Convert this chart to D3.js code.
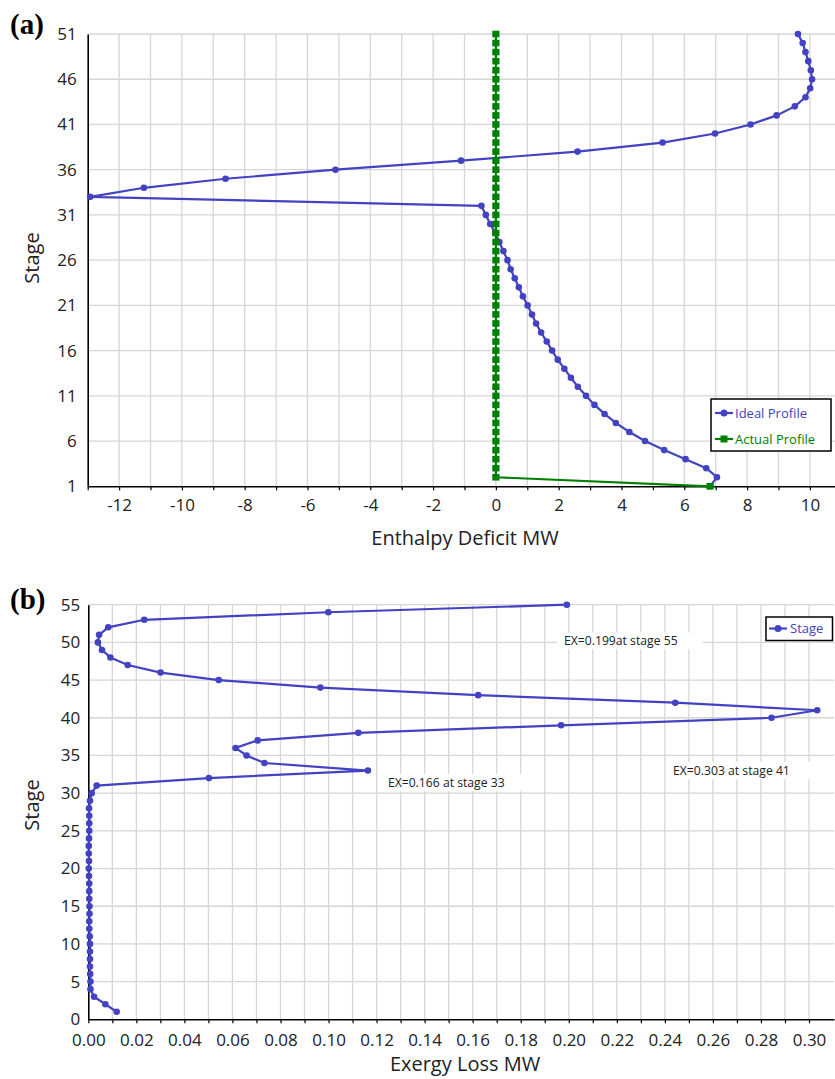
<!DOCTYPE html>
<html><head><meta charset="utf-8">
<script src="https://cdn.jsdelivr.net/npm/d3@7"></script>
<style>
body{margin:0;background:#fff;}
svg{display:block;font-family:"Open Sans","Noto Sans",sans-serif;}
</style></head>
<body><svg id="c" width="835" height="1079"></svg>
<script>
// ---------- data ----------
const stagesA = d3.range(1, 52);
const idealProfile = [6.82, 7.04, 6.70, 6.04, 5.36, 4.75, 4.25, 3.82, 3.46, 3.14,
  2.87, 2.61, 2.39, 2.18, 1.97, 1.79, 1.62, 1.44, 1.28, 1.15,
  1.01, 0.86, 0.73, 0.60, 0.47, 0.37, 0.24, 0.11, -0.02, -0.18,
  -0.32, -0.46, -12.92, -11.21, -8.61, -5.11, -1.11, 2.60, 5.31, 6.98,
  8.11, 8.94, 9.52, 9.86, 10.01, 10.07, 10.03, 9.95, 9.86, 9.77, 9.62];
const actualProfile = [6.82].concat(d3.range(2, 52).map(() => 0));
const xTicksA = d3.range(-13, 11);
const yTicksA = [1, 6, 11, 16, 21, 26, 31, 36, 41, 46, 51];

const stagesB = d3.range(1, 56);
const exergyLoss = [0.0118, 0.0071, 0.0024, 0.0009, 0.0009, 0.0008, 0.0007, 0.0007, 0.0007, 0.0007,
  0.0006, 0.0004, 0.0004, 0.0005, 0.0005, 0.0004, 0.0004, 0.0004, 0.0003, 0.0002,
  0.0003, 0.0002, 0.0002, 0.0003, 0.0004, 0.0004, 0.0004, 0.0003, 0.0007, 0.0014,
  0.0035, 0.0502, 0.1164, 0.0733, 0.0659, 0.0613, 0.0705, 0.1124, 0.1968, 0.2844,
  0.3034, 0.2443, 0.1623, 0.0966, 0.0543, 0.0301, 0.0164, 0.0092, 0.0057, 0.0040,
  0.0045, 0.0083, 0.0233, 0.0999, 0.1992];
const xTicksB = d3.range(0, 31).map(i => i / 100);
const yTicksB = d3.range(0, 56, 5);
const annotationsB = [
  {text: "EX=0.199at stage 55", x: 0.198, stage: 50.2},
  {text: "EX=0.303 at stage 41", x: 0.2434, stage: 33.0},
  {text: "EX=0.166 at stage 33", x: 0.1247, stage: 31.4}
];

// ---------- styles ----------
const BLUE = "#4242C2", GREEN = "#008000", GRID = "#d6d6d6", INK = "#222";
const svg = d3.select("#c");

function panel(cfg) {
  const g = svg.append("g");
  const x = d3.scaleLinear().domain(cfg.xDomain).range([cfg.left, cfg.right]);
  const y = d3.scaleLinear().domain(cfg.yDomain).range([cfg.bottom, cfg.top]);
  // grid
  g.append("g").selectAll("line").data(cfg.xTicks.filter(v => v > cfg.xDomain[0] + 1e-9)).join("line")
    .attr("x1", d => x(d)).attr("x2", d => x(d)).attr("y1", cfg.top).attr("y2", cfg.bottom)
    .attr("stroke", GRID).attr("stroke-width", 1.3);
  g.append("g").selectAll("line").data(cfg.yTicks.filter(v => v > cfg.yDomain[0])).join("line")
    .attr("x1", cfg.left).attr("x2", cfg.right).attr("y1", d => y(d)).attr("y2", d => y(d))
    .attr("stroke", GRID).attr("stroke-width", 1.3);
  // x axis
  const xa = g.append("g").attr("transform", `translate(0,${cfg.bottom})`)
    .call(d3.axisBottom(x).tickValues(cfg.xTicks).tickSize(4).tickSizeOuter(0).tickPadding(cfg.xPad)
      .tickFormat(cfg.xFormat));
  xa.select(".domain").attr("stroke", "#000").attr("stroke-width", 1.6);
  xa.selectAll(".tick line").attr("stroke", "#000").attr("stroke-width", 1.2);
  xa.selectAll("text").attr("font-size", 17).attr("fill", INK).attr("font-family", "'Open Sans'");
  // y axis
  const ya = g.append("g").attr("transform", `translate(${cfg.left},0)`)
    .call(d3.axisLeft(y).tickValues(cfg.yTicks).tickSize(0).tickPadding(cfg.yPad).tickSizeOuter(0));
  ya.select(".domain").attr("stroke", "#000").attr("stroke-width", 1.6);
  ya.selectAll("text").attr("font-size", 17).attr("fill", INK).attr("font-family", "'Open Sans'");
  // titles
  g.append("text").attr("x", 465).attr("y", cfg.xTitleY).attr("text-anchor", "middle")
    .attr("font-size", 20).attr("fill", INK).text(cfg.xTitle);
  g.append("text").attr("transform", `translate(39,${cfg.yTitleY}) rotate(-90)`).attr("text-anchor", "middle")
    .attr("font-size", 20).attr("fill", INK).text("Stage");
  g.append("text").attr("x", 10).attr("y", cfg.tagY).attr("font-family", "'Liberation Serif',serif")
    .attr("font-weight", "bold").attr("font-size", 29).attr("fill", "#000").text(cfg.tag);
  return {g, x, y};
}

// ---------- panel (a) ----------
const A = panel({xDomain: [-13, 10.8], yDomain: [1, 51], left: 87.7, right: 835, top: 34, bottom: 486.3,
  xTicks: xTicksA, yTicks: yTicksA, xPad: 9, xFormat: d => (d % 2 === 0 ? String(d) : ""),
  yPad: 11, xTitle: "Enthalpy Deficit MW", xTitleY: 545, yTitleY: 258, tag: "(a)", tagY: 34});

const idealData = stagesA.map((s, i) => ({s, v: idealProfile[i]}));
const actualData = stagesA.map((s, i) => ({s, v: actualProfile[i]}));
const lineA = d3.line().x(d => A.x(d.v)).y(d => A.y(d.s));
A.g.append("path").datum(idealData).attr("d", lineA).attr("fill", "none").attr("stroke", BLUE).attr("stroke-width", 2.2);
A.g.append("g").selectAll("circle").data(idealData).join("circle")
  .attr("cx", d => A.x(d.v)).attr("cy", d => A.y(d.s)).attr("r", 3.3).attr("fill", BLUE);
A.g.append("path").datum(actualData).attr("d", lineA).attr("fill", "none").attr("stroke", GREEN).attr("stroke-width", 2.2);
A.g.append("g").selectAll("rect").data(actualData).join("rect")
  .attr("x", d => A.x(d.v) - 3.6).attr("y", d => A.y(d.s) - 3.3).attr("width", 7.2).attr("height", 6.6).attr("fill", GREEN);

// legend (a)
const LA = A.g.append("g");
LA.append("rect").attr("x", 711).attr("y", 399).attr("width", 120).attr("height", 52)
  .attr("fill", "#fff").attr("stroke", "#000").attr("stroke-width", 1.5);
[{t: "Ideal Profile", c: BLUE, m: "circle", yy: 413}, {t: "Actual Profile", c: GREEN, m: "rect", yy: 439}].forEach(e => {
  LA.append("line").attr("x1", 715).attr("x2", 733).attr("y1", e.yy).attr("y2", e.yy).attr("stroke", e.c).attr("stroke-width", 2.2);
  if (e.m === "circle") LA.append("circle").attr("cx", 724).attr("cy", e.yy).attr("r", 3.5).attr("fill", e.c);
  else LA.append("rect").attr("x", 720.5).attr("y", e.yy - 3.5).attr("width", 7).attr("height", 7).attr("fill", e.c);
  LA.append("text").attr("x", 735).attr("y", e.yy + 4.5).attr("font-size", 13).attr("fill", e.c).text(e.t);
});

// ---------- panel (b) ----------
const B = panel({xDomain: [0, 0.3104], yDomain: [0, 55], left: 88.3, right: 834, top: 604.7, bottom: 1019.3,
  xTicks: xTicksB, yTicks: yTicksB, xPad: 11, xFormat: d => (Math.round(d * 100) % 2 === 0 ? d3.format(".2f")(d) : ""),
  yPad: 8, xTitle: "Exergy Loss MW", xTitleY: 1071, yTitleY: 805, tag: "(b)", tagY: 609});

// annotations with white backgrounds (drawn over grid)
annotationsB.forEach(a => {
  const tx = B.x(a.x), ty = B.y(a.stage);
  const ag = B.g.append("g");
  const bg = ag.append("rect").attr("fill", "#fff");
  const t = ag.append("text").attr("x", tx).attr("y", ty + 4.3).attr("font-size", 12.2).attr("fill", INK).text(a.text);
  const w = t.node().getComputedTextLength();
  bg.attr("x", tx - 7).attr("y", ty - 8.5).attr("width", w + 32).attr("height", 17);
});

const exData = stagesB.map((s, i) => ({s, v: exergyLoss[i]}));
const lineB = d3.line().x(d => B.x(d.v)).y(d => B.y(d.s));
B.g.append("path").datum(exData).attr("d", lineB).attr("fill", "none").attr("stroke", BLUE).attr("stroke-width", 2.2);
B.g.append("g").selectAll("circle").data(exData).join("circle")
  .attr("cx", d => B.x(d.v)).attr("cy", d => B.y(d.s)).attr("r", 3.3).attr("fill", BLUE);

// legend (b)
const LB = B.g.append("g");
LB.append("rect").attr("x", 766).attr("y", 617).attr("width", 66.5).attr("height", 23.5)
  .attr("fill", "#fff").attr("stroke", "#000").attr("stroke-width", 1.5);
LB.append("line").attr("x1", 769).attr("x2", 787).attr("y1", 628.5).attr("y2", 628.5).attr("stroke", BLUE).attr("stroke-width", 2.2);
LB.append("circle").attr("cx", 778).attr("cy", 628.5).attr("r", 3.5).attr("fill", BLUE);
LB.append("text").attr("x", 790).attr("y", 633).attr("font-size", 13).attr("fill", BLUE).text("Stage");
</script></body></html>
